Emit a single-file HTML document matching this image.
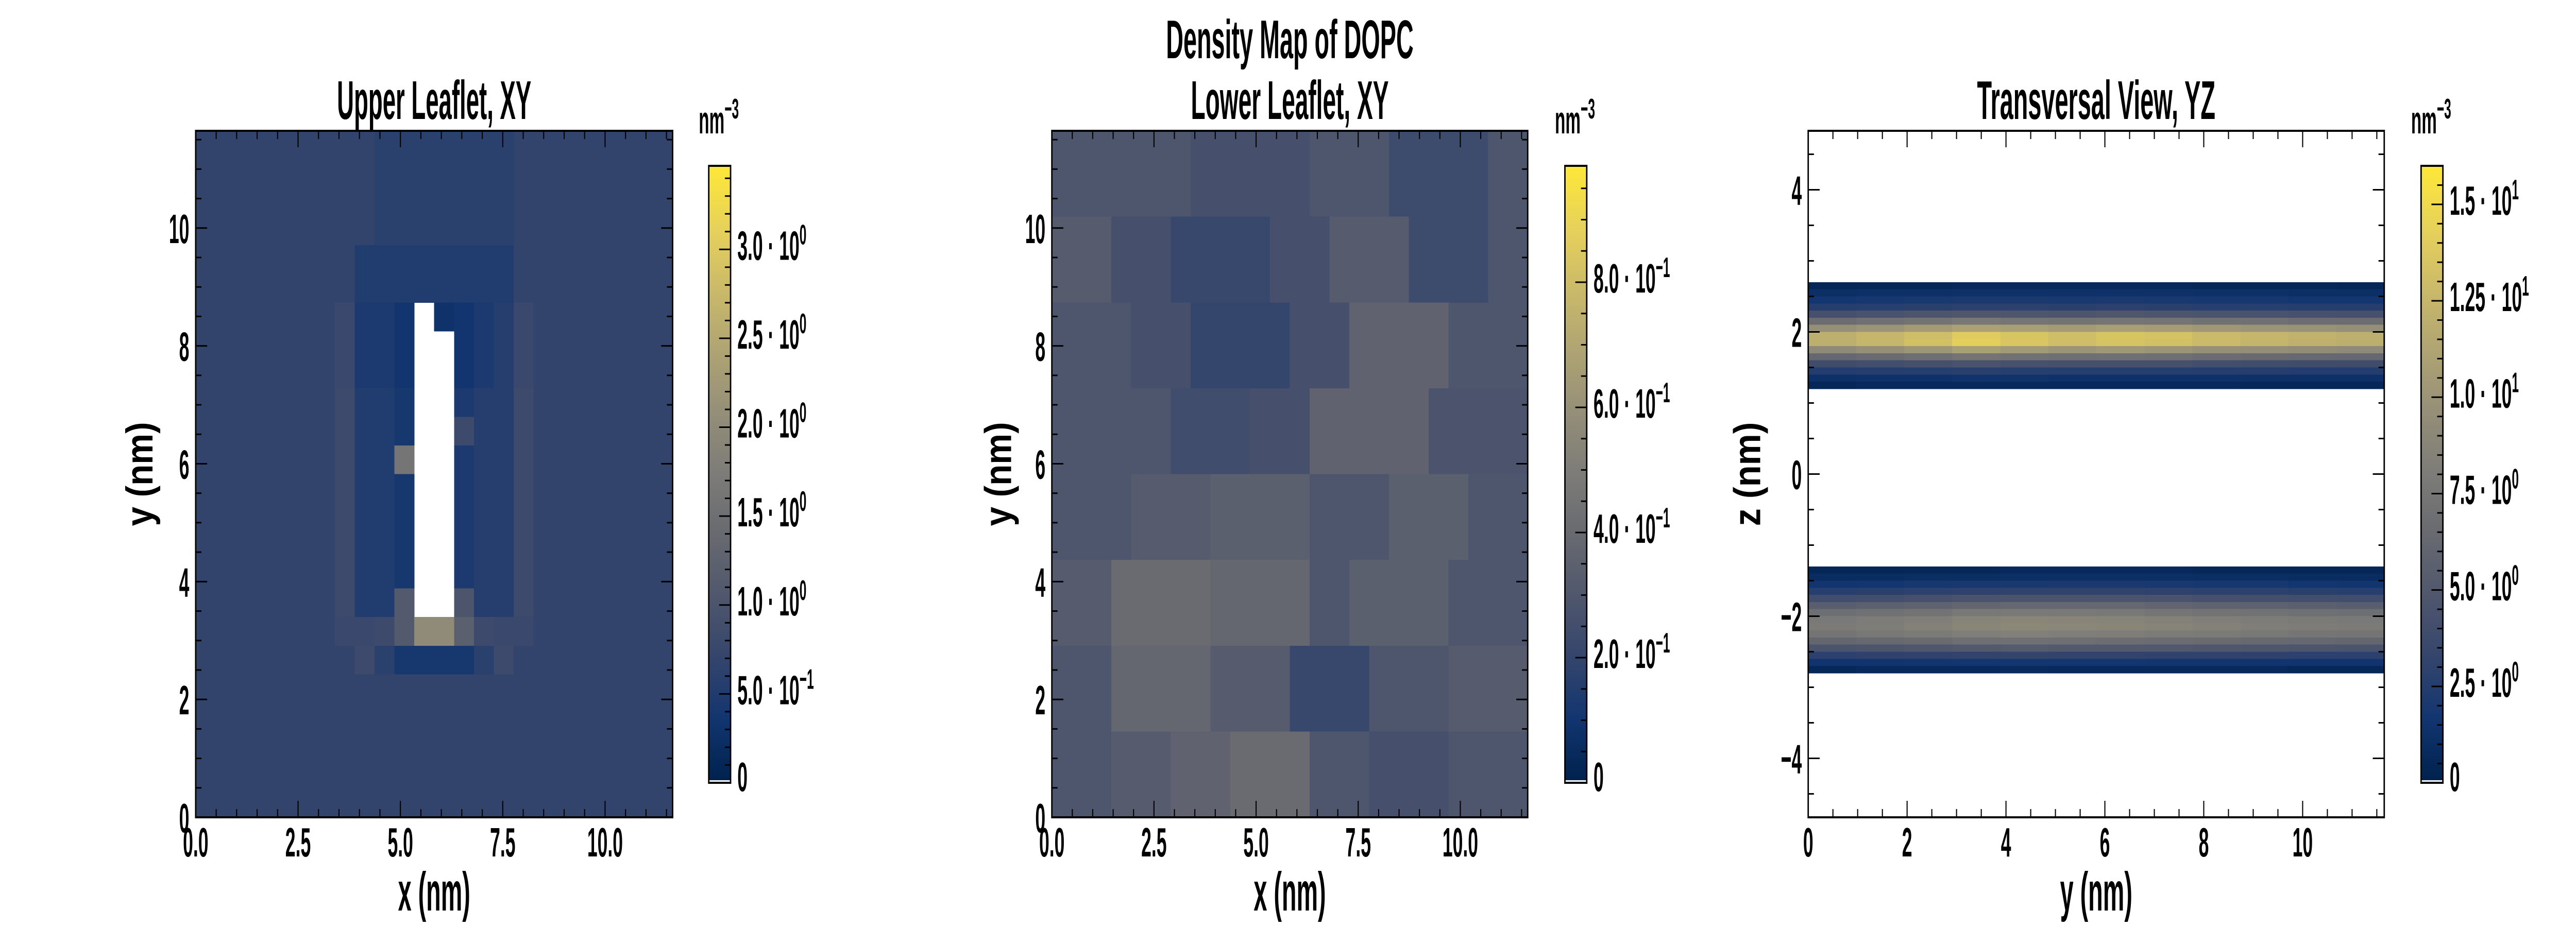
<!DOCTYPE html>
<html><head><meta charset="utf-8"><title>Density Map of DOPC</title>
<style>html,body{margin:0;padding:0;background:#fff;width:100vw;height:100vh;overflow:hidden;}svg{display:block;width:100vw;height:100vh;font-family:"Liberation Sans",sans-serif;font-weight:bold;}</style>
</head><body>
<svg id="fig" xmlns="http://www.w3.org/2000/svg" viewBox="0 0 7200 1800" preserveAspectRatio="none">
<defs>
<linearGradient id="civ" x1="0" y1="1" x2="0" y2="0">
<stop offset="0" stop-color="rgb(0,34,78)"/><stop offset="0.1" stop-color="rgb(18,53,112)"/><stop offset="0.2" stop-color="rgb(52,69,108)"/><stop offset="0.3" stop-color="rgb(80,87,109)"/><stop offset="0.4" stop-color="rgb(104,106,112)"/><stop offset="0.5" stop-color="rgb(125,124,120)"/><stop offset="0.6" stop-color="rgb(149,143,120)"/><stop offset="0.7" stop-color="rgb(175,164,115)"/><stop offset="0.8" stop-color="rgb(203,186,105)"/><stop offset="0.9" stop-color="rgb(231,210,90)"/><stop offset="1" stop-color="rgb(254,232,56)"/>
</linearGradient>
</defs>
<text x="3605" y="113" font-size="106" text-anchor="middle" textLength="692" lengthAdjust="spacingAndGlyphs">Density Map of DOPC</text>
</svg>
<script>
// ---------- data ----------
const upperXYRows = [
[0.68,0.68,0.68,0.68,0.68,0.68,0.68,0.68,0.68,0.6,0.6,0.6,0.6,0.6,0.6,0.6,0.68,0.68,0.68,0.68,0.68,0.68,0.68,0.68],
[0.68,0.68,0.68,0.68,0.68,0.68,0.68,0.68,0.68,0.6,0.6,0.6,0.6,0.6,0.6,0.6,0.68,0.68,0.68,0.68,0.68,0.68,0.68,0.68],
[0.68,0.68,0.68,0.68,0.68,0.68,0.68,0.68,0.68,0.6,0.6,0.6,0.6,0.6,0.6,0.6,0.68,0.68,0.68,0.68,0.68,0.68,0.68,0.68],
[0.68,0.68,0.68,0.68,0.68,0.68,0.68,0.68,0.68,0.6,0.6,0.6,0.6,0.6,0.6,0.6,0.68,0.68,0.68,0.68,0.68,0.68,0.68,0.68],
[0.68,0.68,0.68,0.68,0.68,0.68,0.68,0.68,0.5,0.5,0.5,0.5,0.5,0.5,0.5,0.5,0.68,0.68,0.68,0.68,0.68,0.68,0.68,0.68],
[0.68,0.68,0.68,0.68,0.68,0.68,0.68,0.68,0.5,0.5,0.5,0.5,0.5,0.5,0.5,0.5,0.68,0.68,0.68,0.68,0.68,0.68,0.68,0.68],
[0.68,0.68,0.68,0.68,0.68,0.68,0.68,0.75,0.45,0.45,0.35,null,0.3,0.35,0.45,0.55,0.75,0.68,0.68,0.68,0.68,0.68,0.68,0.68],
[0.68,0.68,0.68,0.68,0.68,0.68,0.68,0.75,0.45,0.45,0.35,null,null,0.35,0.45,0.55,0.75,0.68,0.68,0.68,0.68,0.68,0.68,0.68],
[0.68,0.68,0.68,0.68,0.68,0.68,0.68,0.75,0.45,0.45,0.35,null,null,0.35,0.45,0.55,0.75,0.68,0.68,0.68,0.68,0.68,0.68,0.68],
[0.68,0.68,0.68,0.68,0.68,0.68,0.68,0.8,0.5,0.5,0.4,null,null,0.45,0.55,0.55,0.8,0.68,0.68,0.68,0.68,0.68,0.68,0.68],
[0.68,0.68,0.68,0.68,0.68,0.68,0.68,0.8,0.5,0.5,0.4,null,null,0.8,0.55,0.55,0.8,0.68,0.68,0.68,0.68,0.68,0.68,0.68],
[0.68,0.68,0.68,0.68,0.68,0.68,0.68,0.8,0.5,0.5,1.6,null,null,0.45,0.55,0.55,0.8,0.68,0.68,0.68,0.68,0.68,0.68,0.68],
[0.68,0.68,0.68,0.68,0.68,0.68,0.68,0.8,0.5,0.5,0.4,null,null,0.45,0.55,0.55,0.8,0.68,0.68,0.68,0.68,0.68,0.68,0.68],
[0.68,0.68,0.68,0.68,0.68,0.68,0.68,0.8,0.5,0.5,0.4,null,null,0.45,0.55,0.55,0.8,0.68,0.68,0.68,0.68,0.68,0.68,0.68],
[0.68,0.68,0.68,0.68,0.68,0.68,0.68,0.8,0.5,0.5,0.4,null,null,0.45,0.55,0.55,0.8,0.68,0.68,0.68,0.68,0.68,0.68,0.68],
[0.68,0.68,0.68,0.68,0.68,0.68,0.68,0.8,0.5,0.5,0.4,null,null,0.45,0.55,0.55,0.8,0.68,0.68,0.68,0.68,0.68,0.68,0.68],
[0.68,0.68,0.68,0.68,0.68,0.68,0.68,0.8,0.5,0.5,1.1,null,null,1.0,0.55,0.55,0.8,0.68,0.68,0.68,0.68,0.68,0.68,0.68],
[0.68,0.68,0.68,0.68,0.68,0.68,0.68,0.75,0.75,0.8,1.1,2.0,2.0,1.2,0.8,0.75,0.75,0.68,0.68,0.68,0.68,0.68,0.68,0.68],
[0.68,0.68,0.68,0.68,0.68,0.68,0.68,0.68,0.8,0.6,0.4,0.4,0.4,0.4,0.6,0.8,0.68,0.68,0.68,0.68,0.68,0.68,0.68,0.68],
[0.68,0.68,0.68,0.68,0.68,0.68,0.68,0.68,0.68,0.68,0.68,0.68,0.68,0.68,0.68,0.68,0.68,0.68,0.68,0.68,0.68,0.68,0.68,0.68],
[0.68,0.68,0.68,0.68,0.68,0.68,0.68,0.68,0.68,0.68,0.68,0.68,0.68,0.68,0.68,0.68,0.68,0.68,0.68,0.68,0.68,0.68,0.68,0.68],
[0.68,0.68,0.68,0.68,0.68,0.68,0.68,0.68,0.68,0.68,0.68,0.68,0.68,0.68,0.68,0.68,0.68,0.68,0.68,0.68,0.68,0.68,0.68,0.68],
[0.68,0.68,0.68,0.68,0.68,0.68,0.68,0.68,0.68,0.68,0.68,0.68,0.68,0.68,0.68,0.68,0.68,0.68,0.68,0.68,0.68,0.68,0.68,0.68],
[0.68,0.68,0.68,0.68,0.68,0.68,0.68,0.68,0.68,0.68,0.68,0.68,0.68,0.68,0.68,0.68,0.68,0.68,0.68,0.68,0.68,0.68,0.68,0.68]
];
const lowerXYRows = [
[0.29,0.29,0.29,0.29,0.29,0.29,0.29,0.26,0.26,0.26,0.26,0.26,0.26,0.29,0.29,0.29,0.29,0.23,0.23,0.23,0.23,0.23,0.29,0.29],
[0.32,0.32,0.32,0.26,0.26,0.26,0.21,0.21,0.21,0.21,0.21,0.26,0.26,0.26,0.32,0.32,0.32,0.32,0.23,0.23,0.23,0.23,0.29,0.29],
[0.29,0.29,0.29,0.29,0.26,0.26,0.26,0.2,0.2,0.2,0.2,0.2,0.26,0.26,0.26,0.36,0.36,0.36,0.36,0.36,0.29,0.29,0.29,0.29],
[0.29,0.29,0.29,0.29,0.29,0.29,0.24,0.24,0.24,0.24,0.26,0.26,0.26,0.36,0.36,0.36,0.36,0.36,0.36,0.28,0.28,0.28,0.28,0.28],
[0.29,0.29,0.29,0.29,0.32,0.32,0.32,0.32,0.34,0.34,0.34,0.34,0.34,0.29,0.29,0.29,0.29,0.34,0.34,0.34,0.34,0.29,0.29,0.29],
[0.32,0.32,0.32,0.4,0.4,0.4,0.4,0.4,0.38,0.38,0.38,0.38,0.38,0.29,0.29,0.34,0.34,0.34,0.34,0.34,0.29,0.29,0.29,0.29],
[0.29,0.29,0.29,0.38,0.38,0.38,0.38,0.38,0.32,0.32,0.32,0.32,0.21,0.21,0.21,0.21,0.29,0.29,0.29,0.29,0.32,0.32,0.32,0.32],
[0.29,0.29,0.29,0.32,0.32,0.32,0.36,0.36,0.36,0.4,0.4,0.4,0.4,0.29,0.29,0.29,0.26,0.26,0.26,0.26,0.29,0.29,0.29,0.29]
];
const upperBandTop = 2.7;
const upperBandRows = [
[0.4,0.5,0.5,0.6,0.6,0.6,0.6,0.6,0.5,0.5,0.5,0.4],
[1.1,1.2,1.2,1.3,1.3,1.3,1.3,1.3,1.2,1.2,1.1,1.1],
[1.7,1.8,1.9,2.0,2.0,1.9,2.0,1.9,1.8,1.8,1.7,1.7],
[2.5,2.6,2.7,2.8,2.8,2.7,2.8,2.7,2.6,2.6,2.5,2.5],
[4.2,4.4,4.6,4.8,4.7,4.6,4.8,4.6,4.5,4.4,4.3,4.2],
[6.6,6.9,7.2,7.6,7.4,7.2,7.4,7.3,7.0,6.9,6.7,6.6],
[9.6,10.0,10.5,11.0,10.8,10.5,10.8,10.6,10.2,10.0,9.8,9.6],
[12.0,12.5,13.0,14.0,13.5,13.0,13.5,13.3,12.8,12.5,12.2,12.0],
[12.0,12.5,13.2,14.2,13.6,13.0,13.4,13.2,12.8,12.4,12.1,11.9],
[9.2,9.6,10.1,10.8,10.4,10.0,10.2,10.0,9.7,9.5,9.3,9.1],
[6.2,6.5,6.8,7.3,7.0,6.8,6.9,6.8,6.6,6.4,6.3,6.2],
[3.8,4.0,4.2,4.4,4.3,4.2,4.2,4.2,4.0,3.9,3.8,3.8],
[2.4,2.5,2.6,2.7,2.6,2.6,2.6,2.6,2.5,2.5,2.4,2.4],
[1.2,1.3,1.3,1.4,1.4,1.3,1.3,1.3,1.3,1.2,1.2,1.2],
[0.5,0.6,0.6,0.6,0.6,0.6,0.6,0.6,0.6,0.5,0.5,0.5]
];
const lowerBandTop = -1.3;
const lowerBandRows = [
[0.4,0.4,0.5,0.5,0.6,0.6,0.6,0.6,0.5,0.5,0.4,0.4],
[0.9,0.9,1.0,1.0,1.1,1.1,1.1,1.1,1.0,1.0,0.9,0.9],
[1.6,1.7,1.8,1.9,1.9,2.0,2.0,1.9,1.8,1.8,1.7,1.6],
[2.6,2.7,2.8,2.9,3.0,3.0,3.0,2.9,2.8,2.8,2.7,2.6],
[3.9,4.0,4.2,4.4,4.5,4.5,4.5,4.4,4.2,4.1,4.0,3.9],
[5.4,5.6,5.8,6.1,6.2,6.2,6.2,6.0,5.8,5.7,5.5,5.4],
[6.8,7.0,7.2,7.6,7.7,7.7,7.6,7.4,7.2,7.1,6.9,6.8],
[7.7,8.0,8.2,8.6,8.8,8.7,8.6,8.4,8.2,8.0,7.8,7.7],
[7.9,8.1,8.4,8.8,9.0,8.9,8.8,8.6,8.4,8.2,8.0,7.9],
[7.3,7.6,7.8,8.2,8.3,8.2,8.1,7.9,7.8,7.6,7.4,7.3],
[6.1,6.3,6.5,6.8,6.9,6.8,6.7,6.6,6.5,6.3,6.2,6.1],
[4.5,4.6,4.8,5.0,5.1,5.0,5.0,4.9,4.8,4.7,4.6,4.5],
[2.8,2.9,3.0,3.1,3.2,3.1,3.1,3.0,3.0,2.9,2.8,2.8],
[1.5,1.5,1.6,1.7,1.7,1.7,1.7,1.6,1.6,1.5,1.5,1.5],
[0.5,0.6,0.6,0.6,0.7,0.6,0.6,0.6,0.6,0.6,0.5,0.5]
];
const boxLength = 11.65;
const zHalf = 4.83;
const xyTicksX = [0, 2.5, 5.0, 7.5, 10.0];
const xyTickLabelsX = ["0.0","2.5","5.0","7.5","10.0"];
const xyTicksY = [0, 2, 4, 6, 8, 10];
const xyTickLabelsY = ["0","2","4","6","8","10"];
const yzTicksX = [0, 2, 4, 6, 8, 10];
const yzTickLabelsX = ["0","2","4","6","8","10"];
const yzTicksZ = [-4, -2, 0, 2, 4];
const yzTickLabelsZ = ["\u22124","\u22122","0","2","4"];
const cbMax1 = 3.47, cbMax2 = 0.986, cbMax3 = 16.0;
const cbTicks1 = [0, 0.5, 1.0, 1.5, 2.0, 2.5, 3.0];
const cbLabels1 = [["0",""],["5.0 \u00b7 10","\u22121"],["1.0 \u00b7 10","0"],["1.5 \u00b7 10","0"],["2.0 \u00b7 10","0"],["2.5 \u00b7 10","0"],["3.0 \u00b7 10","0"]];
const cbTicks2 = [0, 0.2, 0.4, 0.6, 0.8];
const cbLabels2 = [["0",""],["2.0 \u00b7 10","\u22121"],["4.0 \u00b7 10","\u22121"],["6.0 \u00b7 10","\u22121"],["8.0 \u00b7 10","\u22121"]];
const cbTicks3 = [0, 2.5, 5.0, 7.5, 10.0, 12.5, 15.0];
const cbLabels3 = [["0",""],["2.5 \u00b7 10","0"],["5.0 \u00b7 10","0"],["7.5 \u00b7 10","0"],["1.0 \u00b7 10","1"],["1.25 \u00b7 10","1"],["1.5 \u00b7 10","1"]];

// ---------- rendering ----------
const NS = "http://www.w3.org/2000/svg";
const svg = document.getElementById('fig');
const civ = [[0,34,78],[18,53,112],[52,69,108],[80,87,109],[104,106,112],[125,124,120],[149,143,120],[175,164,115],[203,186,105],[231,210,90],[254,232,56]];
function cmap(t){
  t = Math.max(0, Math.min(1, t)) * 10;
  const i = Math.min(9, Math.floor(t)), f = t - i;
  const a = civ[i], b = civ[i+1];
  return 'rgb(' + [0,1,2].map(k => Math.round(a[k] + (b[k]-a[k])*f)).join(',') + ')';
}
function el(tag, attrs, parent){
  const e = document.createElementNS(NS, tag);
  for (const k in attrs) e.setAttribute(k, attrs[k]);
  (parent || svg).appendChild(e);
  return e;
}
const SX = 0.64;
function label(parent, x, y, str, size, anchor, name){
  const t = el('text', {transform: 'translate(' + x + ',' + y + ') scale(' + SX + ',1)', 'font-size': size, 'text-anchor': anchor}, parent);
  t.textContent = str;
  
  
  return t;
}

function makePanel(cfg){
  const g = el('g', {});
  
  
  const X = v => cfg.L + (v - cfg.x0) / (cfg.x1 - cfg.x0) * (cfg.R - cfg.L);
  const Y = v => cfg.B - (v - cfg.y0) / (cfg.y1 - cfg.y0) * (cfg.B - cfg.T);
  const hm = el('g', {'shape-rendering': 'crispEdges'}, g);
  
  
  cfg.draw(hm, X, Y);
  const tt = el('text', {x: (cfg.L + cfg.R) / 2, y: 231, 'font-size': 106, 'text-anchor': 'middle', textLength: cfg.titleW, lengthAdjust: 'spacingAndGlyphs'}, g);
  tt.textContent = cfg.title;
  
  
  const tk = el('g', {stroke: '#000', 'stroke-width': 3}, g);
  
  
  for (let v = cfg.x0; v <= cfg.x1 + 1e-9; v += cfg.xMinor){
    const isMaj = cfg.xTicks.some(m => Math.abs(m - v) < 1e-6);
    const len = isMaj ? 32 : 16, x = X(v);
    el('line', {x1: x, x2: x, y1: cfg.B, y2: cfg.B - len}, tk);
    el('line', {x1: x, x2: x, y1: cfg.T, y2: cfg.T + len}, tk);
  }
  const ys = Math.ceil(cfg.y0 / cfg.yMinor) * cfg.yMinor;
  for (let v = ys; v <= cfg.y1 + 1e-9; v += cfg.yMinor){
    const isMaj = cfg.yTicks.some(m => Math.abs(m - v) < 1e-6);
    const len = isMaj ? 32 : 16, y = Y(v);
    el('line', {x1: cfg.L, x2: cfg.L + len, y1: y, y2: y}, tk);
    el('line', {x1: cfg.R, x2: cfg.R - len, y1: y, y2: y}, tk);
  }
  cfg.xTicks.forEach((v, i) => label(g, X(v), 1663, cfg.xLabels[i], 80, 'middle', cfg.name + '-x-tick-label'));
  cfg.yTicks.forEach((v, i) => label(g, cfg.L - 18, Y(v) + 29, cfg.yLabels[i], 80, 'end', cfg.name + '-y-tick-label'));
  const fr = el('rect', {x: cfg.L, y: cfg.T, width: cfg.R - cfg.L, height: cfg.B - cfg.T, fill: 'none', stroke: '#000', 'stroke-width': 4}, g);
  
  
  const xl = el('text', {x: (cfg.L + cfg.R) / 2, y: 1768, 'font-size': 106, 'text-anchor': 'middle', textLength: 202, lengthAdjust: 'spacingAndGlyphs'}, g);
  xl.textContent = cfg.xTitle;
  
  
  const yl = el('text', {x: 0, y: 0, transform: 'translate(' + (cfg.ylx + 36) + ',' + ((cfg.T + cfg.B) / 2) + ') rotate(-90)', 'font-size': 106, 'text-anchor': 'middle', textLength: 202, lengthAdjust: 'spacingAndGlyphs'}, g);
  yl.textContent = cfg.yTitle;
  
  
  const cb = el('g', {}, g);
  
  
  const cT = 322, cB = 1520, cL = cfg.cbL, cR = cfg.cbL + 61;
  const CY = v => cB - v / cfg.cbMax * (cB - cT);
  el('rect', {x: cL, y: cT, width: cR - cL, height: cB - cT - 5, fill: 'url(#civ)'}, cb);
  el('rect', {x: cL, y: cB - 5, width: cR - cL, height: 5, fill: '#fff'}, cb);
  el('rect', {x: cL, y: cT, width: cR - cL, height: cB - cT, fill: 'none', stroke: '#000', 'stroke-width': 4}, cb);
  const minorN = Math.floor(cfg.cbMax / cfg.cbMinor + 1e-6);
  for (let k = 1; k <= minorN; k++){
    const v = k * cfg.cbMinor;
    const isMaj = cfg.cbTicks.some(m => Math.abs(m - v) < 1e-6);
    el('line', {x1: cR, x2: cR - (isMaj ? 32 : 16), y1: CY(v), y2: CY(v), stroke: '#000', 'stroke-width': 3}, cb);
  }
  cfg.cbTicks.forEach((v, i) => {
    const t = el('text', {transform: 'translate(' + (cR + 19) + ',' + (Math.min(CY(v), cB - 4) + 20) + ') scale(' + SX + ',1)', 'font-size': 80}, cb);
    
    
    const m = el('tspan', {}, t); m.textContent = cfg.cbLabels[i][0];
    if (cfg.cbLabels[i][1]){ const s = el('tspan', {dy: -30, 'font-size': 55}, t); s.textContent = cfg.cbLabels[i][1]; }
  });
  const u = el('text', {transform: 'translate(' + (cL - 28) + ',259) scale(' + SX + ',1)', 'font-size': 75}, cb);
  
  
  const u1 = el('tspan', {}, u); u1.textContent = 'nm';
  const u2 = el('tspan', {dy: -29, 'font-size': 55}, u); u2.textContent = '\u22123';
}

function drawGrid(rows, vmax, X, Y, parent, yTop, cellH){
  const nC = rows[0].length, dx = boxLength / nC;
  rows.forEach((row, r) => {
    row.forEach((v, c) => {
      if (v === null) return;
      const x0 = X(c * dx), x1 = X((c + 1) * dx);
      const yA = Y(yTop - r * cellH), yB = Y(yTop - (r + 1) * cellH);
      const rc = el('rect', {x: x0, y: yA, width: x1 - x0 + 0.6, height: yB - yA + 0.6, fill: cmap(v / vmax)}, parent);
      
      
    });
  });
}

makePanel({name: 'upper-leaflet-panel', title: 'Upper Leaflet, XY', titleW: 543, L: 547, R: 1880, T: 254, B: 1587,
  x0: 0, x1: boxLength, y0: 0, y1: boxLength, xTicks: xyTicksX, xLabels: xyTickLabelsX, xMinor: 0.5,
  yTicks: xyTicksY, yLabels: xyTickLabelsY, yMinor: 0.5, xTitle: 'x (nm)', yTitle: 'y (nm)', ylx: 390,
  cbL: 1981, cbMax: cbMax1, cbTicks: cbTicks1, cbLabels: cbLabels1, cbMinor: 0.1,
  draw: (g, X, Y) => drawGrid(upperXYRows, cbMax1, X, Y, g, boxLength, boxLength / upperXYRows.length)});

makePanel({name: 'lower-leaflet-panel', title: 'Lower Leaflet, XY', titleW: 553, L: 2940, R: 4270, T: 254, B: 1587,
  x0: 0, x1: boxLength, y0: 0, y1: boxLength, xTicks: xyTicksX, xLabels: xyTickLabelsX, xMinor: 0.5,
  yTicks: xyTicksY, yLabels: xyTickLabelsY, yMinor: 0.5, xTitle: 'x (nm)', yTitle: 'y (nm)', ylx: 2790,
  cbL: 4374, cbMax: cbMax2, cbTicks: cbTicks2, cbLabels: cbLabels2, cbMinor: 0.05,
  draw: (g, X, Y) => drawGrid(lowerXYRows, cbMax2, X, Y, g, boxLength, boxLength / lowerXYRows.length)});

makePanel({name: 'transversal-panel', title: 'Transversal View, YZ', titleW: 666, L: 5054, R: 6664, T: 254, B: 1587,
  x0: 0, x1: boxLength, y0: -zHalf, y1: zHalf, xTicks: yzTicksX, xLabels: yzTickLabelsX, xMinor: 0.5,
  yTicks: yzTicksZ, yLabels: yzTickLabelsZ, yMinor: 0.5, xTitle: 'y (nm)', yTitle: 'z (nm)', ylx: 4884,
  cbL: 6767, cbMax: cbMax3, cbTicks: cbTicks3, cbLabels: cbLabels3, cbMinor: 0.5,
  draw: (g, X, Y) => { drawGrid(upperBandRows, cbMax3, X, Y, g, upperBandTop, 0.1); drawGrid(lowerBandRows, cbMax3, X, Y, g, lowerBandTop, 0.1); }});
</script>
</body></html>
